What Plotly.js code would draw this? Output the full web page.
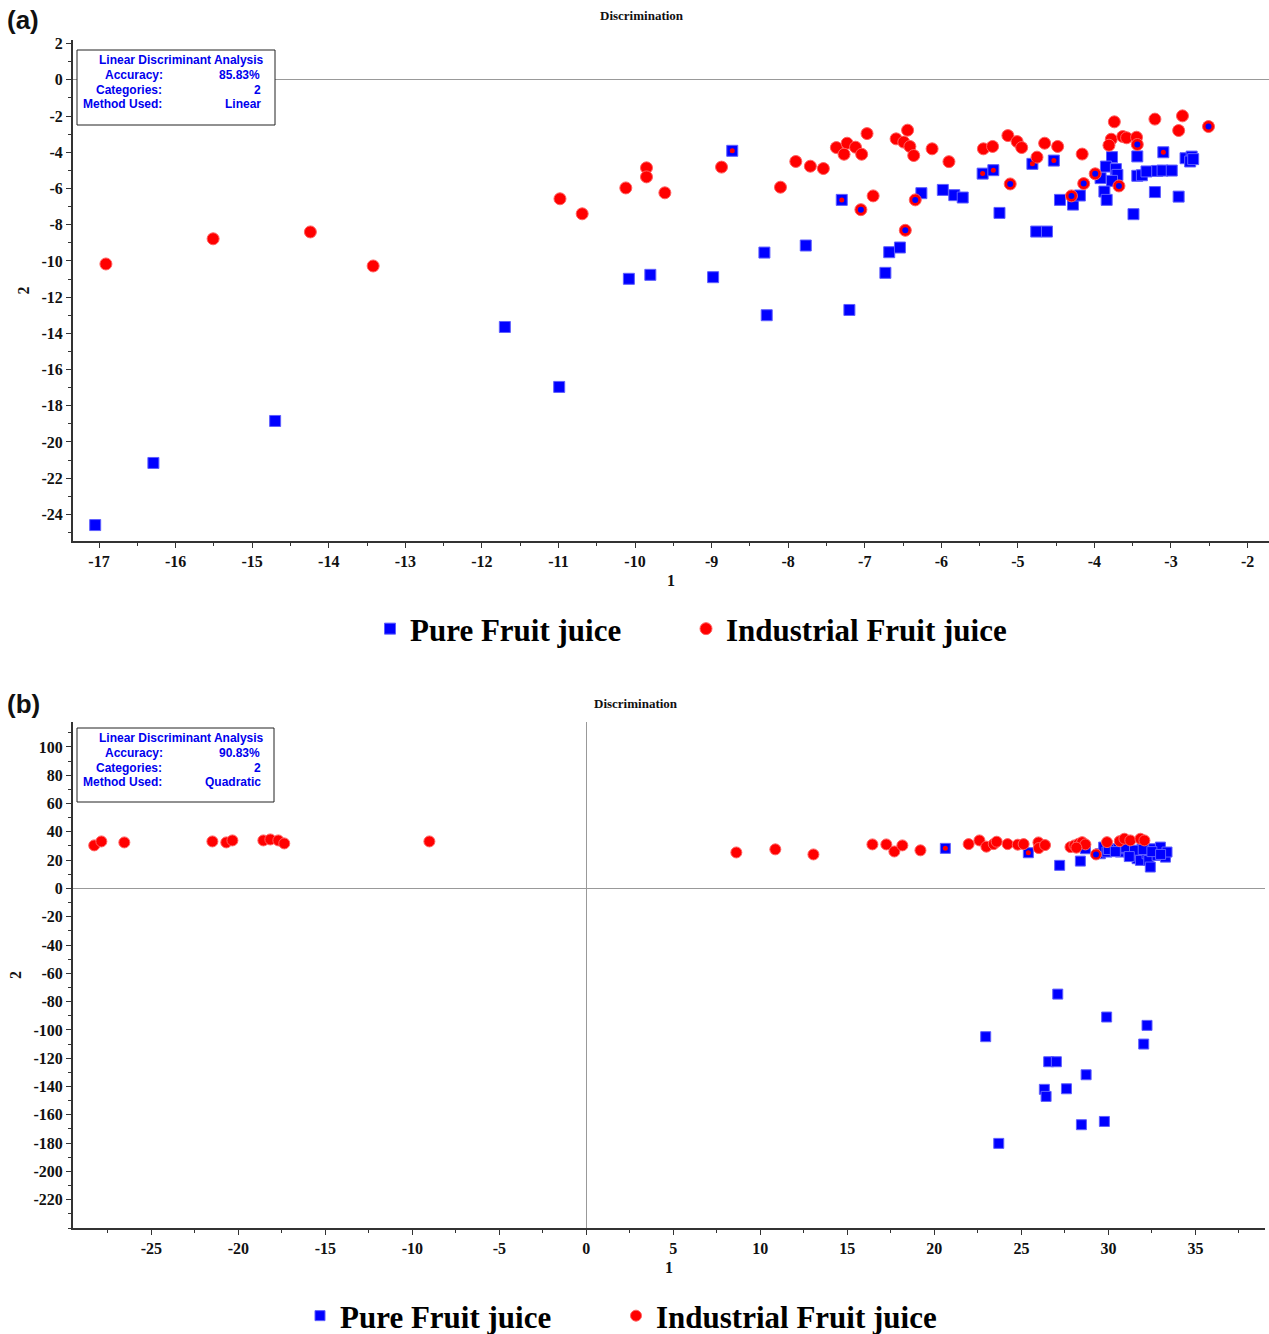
<!DOCTYPE html>
<html>
<head>
<meta charset="utf-8">
<script src="https://cdn.plot.ly/plotly-3.0.1.min.js"></script>
<style>html,body{margin:0;padding:0;background:#fff;}</style>
</head>
<body>
<div id="chart" style="width:1269px;height:1334px;"></div>
<script>
// ---------- Panel (a) data ----------
const pureAX = [-17.05,-16.29,-14.70,-11.70,-10.99,-10.08,-9.80,-8.98,-8.31,-8.28,-7.77,-7.20,-6.73,-6.68,-6.54,-6.26,-5.98,-5.83,-5.72,-5.24,-4.76,-4.62,-4.45,-4.28,-4.19,-3.77,-3.44,-3.85,-3.72,-3.70,-3.92,-3.77,-3.87,-3.84,-3.49,-3.44,-3.38,-3.32,-3.18,-3.11,-2.99,-3.21,-2.90,-2.81,-2.73,-2.75,-2.71];
const pureAY = [-24.59,-21.16,-18.84,-13.65,-16.96,-10.99,-10.77,-10.90,-9.54,-13.00,-9.15,-12.71,-10.66,-9.52,-9.26,-6.26,-6.08,-6.37,-6.50,-7.35,-8.38,-8.38,-6.63,-6.89,-6.39,-4.27,-4.23,-4.79,-4.93,-5.25,-5.43,-5.58,-6.17,-6.63,-7.42,-5.30,-5.27,-5.06,-5.03,-5.01,-5.01,-6.20,-6.45,-4.33,-4.24,-4.51,-4.38];
// pure points overlapping an industrial point (square with red dot)
const pureOvAX = [-8.73,-7.30,-5.46,-5.32,-4.81,-4.53,-3.10];
const pureOvAY = [-3.92,-6.63,-5.18,-4.99,-4.64,-4.46,-4.00];
const indAX = [-16.91,-15.51,-14.24,-13.42,-10.98,-10.69,-10.12,-9.85,-9.85,-9.61,-8.87,-8.10,-7.90,-7.71,-7.54,-7.37,-7.23,-7.27,-7.12,-7.04,-6.97,-6.89,-6.59,-6.44,-6.49,-6.41,-6.36,-6.12,-5.90,-5.45,-5.33,-5.13,-5.01,-4.95,-4.75,-4.65,-4.48,-4.16,-3.74,-3.78,-3.81,-3.63,-3.58,-3.45,-3.21,-2.85,-2.90];
const indAY = [-10.17,-8.78,-8.40,-10.28,-6.57,-7.40,-5.97,-4.86,-5.36,-6.24,-4.82,-5.93,-4.51,-4.77,-4.90,-3.74,-3.50,-4.11,-3.72,-4.11,-2.97,-6.41,-3.26,-2.78,-3.44,-3.68,-4.18,-3.81,-4.52,-3.81,-3.68,-3.08,-3.41,-3.74,-4.27,-3.50,-3.68,-4.10,-2.32,-3.28,-3.61,-3.13,-3.20,-3.17,-2.17,-1.99,-2.80];
// industrial points overlapping a pure point (circle with blue dot)
const indOvAX = [-7.05,-6.34,-6.47,-5.10,-4.14,-4.30,-3.99,-3.68,-3.44,-2.51];
const indOvAY = [-7.17,-6.63,-8.31,-5.75,-5.73,-6.41,-5.19,-5.86,-3.57,-2.58];

// ---------- Panel (b) data ----------
const pureBX = [27.20,28.39,28.68,29.54,29.73,29.92,30.31,30.69,30.88,31.17,31.36,31.65,31.74,31.84,31.94,32.22,32.32,32.41,32.60,32.80,32.99,33.28,33.37,30.0,30.4,31.0,31.5,32.0,32.5,33.0,31.2,
                27.09,29.90,32.22,22.95,32.03,26.57,27.01,28.72,26.32,26.42,27.59,28.45,29.77,23.70];
const pureBY = [16.3,19.3,28.0,24.5,29.2,25.7,28.0,25.7,28.0,25.7,23.3,21.0,25.7,19.8,29.2,24.5,19.8,15.1,28.0,23.3,29.2,22.1,25.7,27.5,26.0,29.0,27.0,27.5,26.0,24.0,22.5,
                -74.7,-90.9,-96.8,-104.8,-110.0,-122.5,-122.5,-131.7,-142.0,-147.0,-141.6,-167.0,-164.7,-180.2];
const pureOvBX = [20.63,25.40];
const pureOvBY = [28.3,25.2];
const indBX = [-28.28,-27.87,-26.55,-21.49,-20.69,-20.34,-18.56,-18.16,-17.70,-17.36,-9.02,8.62,10.86,13.05,16.44,17.24,17.70,18.16,19.20,21.97,22.59,22.99,23.41,23.58,24.21,24.79,25.13,25.98,26.00,26.36,27.82,28.05,28.29,28.49,28.68,28.16,29.92,30.65,30.92,31.26,31.84,32.07];
const indBY = [30.4,33.2,32.5,33.2,32.5,33.9,33.9,34.6,33.9,31.8,33.2,25.4,27.6,24.0,31.1,31.1,26.1,30.4,26.9,31.3,33.9,29.5,31.3,33.0,31.3,30.9,31.3,32.5,28.5,30.6,29.2,30.4,31.6,32.7,31.1,28.8,32.7,33.4,35.1,33.9,35.1,33.9];
const indOvBX = [29.29];
const indOvBY = [24.0];

const seriesNames = ['Pure Fruit juice', 'Industrial Fruit juice'];

// ---------- tick labels (plain hyphen minus, as in the original) ----------
const xTicksA = [-17,-16,-15,-14,-13,-12,-11,-10,-9,-8,-7,-6,-5,-4,-3,-2];
const yTicksA = [2,0,-2,-4,-6,-8,-10,-12,-14,-16,-18,-20,-22,-24];
const xTicksB = [-25,-20,-15,-10,-5,0,5,10,15,20,25,30,35];
const yTicksB = [100,80,60,40,20,0,-20,-40,-60,-80,-100,-120,-140,-160,-180,-200,-220];
const lbl = arr => arr.map(v => String(v).replace('\u2212', '-'));

const BLUE = '#0000ff', RED = '#ff0000';
const sqLine = {color: '#5f5fff', width: 1};
const ciLine = {color: '#ff6060', width: 1};

function panelTraces(xa, ya, legP, legI, pX, pY, poX, poY, iX, iY, ioX, ioY, sz) {
  return [
    {x: pX.concat(poX), y: pY.concat(poY), xaxis: xa, yaxis: ya, type: 'scatter', mode: 'markers',
     name: seriesNames[0], legend: legP, marker: {symbol: 'square', size: sz, color: BLUE, line: sqLine}},
    {x: iX.concat(ioX), y: iY.concat(ioY), xaxis: xa, yaxis: ya, type: 'scatter', mode: 'markers',
     name: seriesNames[1], legend: legI, marker: {symbol: 'circle', size: sz + 1, color: RED, line: ciLine}},
    {x: poX, y: poY, xaxis: xa, yaxis: ya, type: 'scatter', mode: 'markers', showlegend: false, hoverinfo: 'skip',
     marker: {symbol: 'circle', size: 5, color: RED}},
    {x: ioX, y: ioY, xaxis: xa, yaxis: ya, type: 'scatter', mode: 'markers', showlegend: false, hoverinfo: 'skip',
     marker: {symbol: 'circle', size: 6, color: BLUE}}
  ];
}

const data = panelTraces('x', 'y', 'legend', 'legend3', pureAX, pureAY, pureOvAX, pureOvAY, indAX, indAY, indOvAX, indOvAY, 11)
  .concat(panelTraces('x2', 'y2', 'legend2', 'legend4', pureBX, pureBY, pureOvBX, pureOvBY, indBX, indBY, indOvBX, indOvBY, 10));

const W = 1269, H = 1334;
const px = v => v / W;
const py = v => 1 - v / H;

const tickFont = {family: 'Liberation Serif, Times New Roman, serif', size: 16, weight: 'bold', color: '#111'};
const titleFont = {family: 'Liberation Serif, Times New Roman, serif', size: 16, weight: 'bold', color: '#111'};
const boxFont = {family: 'Liberation Sans, Arial, sans-serif', size: 12, weight: 'bold', color: '#0000ee'};

function axis(extra) {
  return Object.assign({
    showgrid: false, showline: true, linecolor: '#333', linewidth: 2,
    ticks: 'outside', ticklen: 5, tickwidth: 1, tickcolor: '#333',
    tickfont: tickFont, zeroline: false, fixedrange: true, tickmode: 'array'
  }, extra);
}

const annotations = [];
function txt(t, x, y, anchor, font) {
  annotations.push({text: t, xref: 'paper', yref: 'paper', x: px(x), y: py(y), xanchor: anchor, yanchor: 'middle',
    showarrow: false, font: font, borderpad: 0});
}
txt('(a)', 6, 20, 'left', {family: 'Liberation Sans, Arial, sans-serif', size: 26, weight: 'bold', color: '#111'});
txt('(b)', 6, 704, 'left', {family: 'Liberation Sans, Arial, sans-serif', size: 26, weight: 'bold', color: '#111'});
txt('Discrimination', 642, 16, 'center', {family: 'Liberation Serif, Times New Roman, serif', size: 13, weight: 'bold', color: '#111'});
txt('Discrimination', 636, 703, 'center', {family: 'Liberation Serif, Times New Roman, serif', size: 13, weight: 'bold', color: '#111'});

// info boxes
const boxA = {title: 'Linear Discriminant Analysis', acc: '85.83%', cat: '2', method: 'Linear'};
const boxB = {title: 'Linear Discriminant Analysis', acc: '90.83%', cat: '2', method: 'Quadratic'};
function infoBox(b, top) {
  txt(b.title, 265, top + 10, 'right', boxFont);
  txt('Accuracy:', 164, top + 25, 'right', boxFont);
  txt(b.acc, 261, top + 25, 'right', boxFont);
  txt('Categories:', 163, top + 40, 'right', boxFont);
  txt(b.cat, 262, top + 40, 'right', boxFont);
  txt('Method Used:', 163, top + 54, 'right', boxFont);
  txt(b.method, 262, top + 54, 'right', boxFont);
}
infoBox(boxA, 50);
infoBox(boxB, 728);

const shapes = [
  {type: 'rect', xref: 'paper', yref: 'paper', x0: px(77), x1: px(275), y0: py(125), y1: py(50),
   line: {color: '#222', width: 1}, fillcolor: '#fff', layer: 'above'},
  {type: 'rect', xref: 'paper', yref: 'paper', x0: px(77), x1: px(274), y0: py(802), y1: py(728),
   line: {color: '#222', width: 1}, fillcolor: '#fff', layer: 'above'}
];

const legFont = {family: 'Liberation Serif, Times New Roman, serif', size: 31, weight: 'bold', color: '#000'};
function leg(x, y) {
  return {orientation: 'h', x: px(x), xanchor: 'left', y: py(y), yanchor: 'middle',
    font: legFont, bgcolor: 'rgba(0,0,0,0)', borderwidth: 0};
}

const layout = {
  width: W, height: H,
  margin: {l: 0, r: 0, t: 0, b: 0, autoexpand: false},
  paper_bgcolor: '#fff', plot_bgcolor: '#fff',
  showlegend: true,
  xaxis: axis({domain: [px(73), 1], anchor: 'y', range: [-17.34, -1.72],
    tickvals: xTicksA, ticktext: lbl(xTicksA),
    minor: {dtick: 0.5, tick0: 0, ticks: 'outside', ticklen: 3, tickcolor: '#333', showgrid: false},
    title: {text: '1', font: titleFont, standoff: 6}}),
  yaxis: axis({domain: [py(541), py(40)], anchor: 'x', range: [-25.47, 2.2],
    tickvals: yTicksA, ticktext: lbl(yTicksA),
    minor: {dtick: 1, tick0: 0, ticks: 'outside', ticklen: 3, tickcolor: '#333', showgrid: false},
    zeroline: true, zerolinecolor: '#999', zerolinewidth: 1,
    title: {text: '2', font: titleFont, standoff: 8}}),
  xaxis2: axis({domain: [px(73), px(1265)], anchor: 'y2', range: [-29.5, 39],
    tickvals: xTicksB, ticktext: lbl(xTicksB),
    minor: {dtick: 2.5, tick0: 0, ticks: 'outside', ticklen: 3, tickcolor: '#333', showgrid: false},
    zeroline: true, zerolinecolor: '#999', zerolinewidth: 1,
    title: {text: '1', font: titleFont, standoff: 6}}),
  yaxis2: axis({domain: [py(1228), py(722)], anchor: 'x2', range: [-240, 117.6],
    tickvals: yTicksB, ticktext: lbl(yTicksB),
    minor: {dtick: 10, tick0: 0, ticks: 'outside', ticklen: 3, tickcolor: '#333', showgrid: false},
    zeroline: true, zerolinecolor: '#999', zerolinewidth: 1,
    title: {text: '2', font: titleFont, standoff: 8}}),
  legend: leg(370, 629),
  legend3: leg(686, 629),
  legend2: leg(300, 1316),
  legend4: leg(616, 1316),
  annotations: annotations,
  shapes: shapes
};

Plotly.newPlot('chart', data, layout, {displayModeBar: false, staticPlot: true});
</script>
</body>
</html>
